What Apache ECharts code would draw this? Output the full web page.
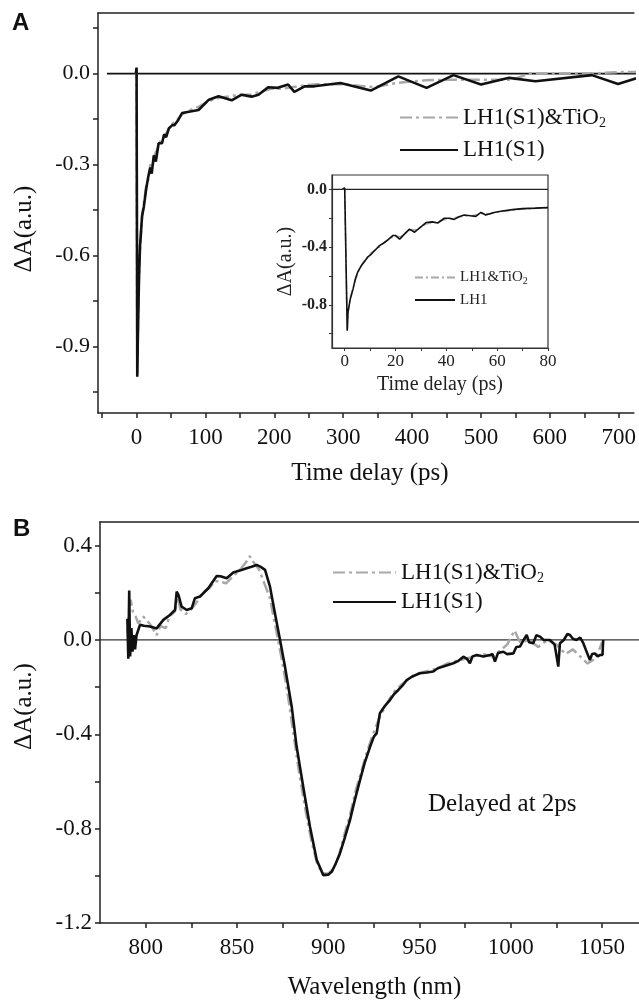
<!DOCTYPE html>
<html>
<head>
<meta charset="utf-8">
<script src="https://cdn.jsdelivr.net/npm/echarts@6/dist/echarts.min.js"></script>
<style>html,body{margin:0;padding:0;background:#fff;}#c{width:639px;height:1003px;}</style>
</head>
<body>
<div id="c"></div>
<script>
// ---------- Panel A: kinetics (time delay, ps) ----------
const seriesNamesA = ['LH1(S1)&TiO2', 'LH1(S1)'];
const kineticsBlackA = [[-1,0],[0,0.02],[1,-1.0],[2,-0.85],[3.5,-0.68],[5,-0.57],[8,-0.47],[10.5,-0.44],[14,-0.38],[17,-0.34],[20,-0.31],[22,-0.33],[25,-0.27],[28,-0.29],[32,-0.23],[37,-0.23],[40,-0.20],[43,-0.21],[47,-0.18],[52,-0.17],[55,-0.17],[60,-0.155],[66,-0.13],[78,-0.125],[90,-0.12],[105,-0.086],[119,-0.075],[138,-0.088],[152,-0.07],[167,-0.076],[177,-0.07],[191,-0.045],[205,-0.047],[220,-0.036],[229,-0.06],[244,-0.042],[258,-0.042],[296,-0.031],[340,-0.056],[380,-0.009],[421,-0.047],[460,-0.005],[500,-0.036],[541,-0.014],[579,-0.025],[661,-0.005],[699,-0.034],[740,-0.005]];
const kineticsGrayA = [[-1,0],[0,0.01],[1,-0.99],[2,-0.84],[3.5,-0.67],[5,-0.58],[8,-0.47],[10.5,-0.43],[14,-0.37],[17,-0.35],[20,-0.30],[23,-0.31],[26,-0.27],[30,-0.25],[35,-0.22],[40,-0.21],[45,-0.19],[50,-0.17],[55,-0.16],[60,-0.15],[66,-0.135],[78,-0.12],[90,-0.11],[105,-0.09],[120,-0.08],[135,-0.075],[150,-0.07],[165,-0.07],[180,-0.06],[195,-0.05],[210,-0.05],[225,-0.045],[240,-0.04],[260,-0.035],[300,-0.035],[345,-0.045],[380,-0.03],[420,-0.022],[460,-0.02],[500,-0.02],[546,-0.02],[570,0.0],[620,0.0],[660,0.0],[700,0.005],[740,0.005]];
const baselineA = [[-43,0],[760,0]];
const xLabelsA = [0,100,200,300,400,500,600,700];
const xTicksA = [-50,0,50,100,150,200,250,300,350,400,450,500,550,600,650,700];
const yLabelsA = [0,-0.3,-0.6,-0.9];
const yTicksA = [0.15,0,-0.15,-0.3,-0.45,-0.6,-0.75,-0.9,-1.05];

// ---------- Inset of panel A ----------
const seriesNamesInset = ['LH1&TiO2', 'LH1'];
const insetBlack = [[-1,0],[0,0.01],[1,-0.98],[1.3,-0.85],[2.2,-0.76],[3.3,-0.69],[4.2,-0.62],[5.2,-0.57],[6.5,-0.53],[7.8,-0.50],[9,-0.47],[10.4,-0.45],[12,-0.42],[13.7,-0.39],[15.5,-0.37],[17,-0.35],[18.9,-0.32],[20,-0.32],[21.6,-0.345],[23.5,-0.31],[25.5,-0.275],[27.5,-0.297],[30,-0.26],[32,-0.23],[34.5,-0.225],[36.6,-0.233],[39.2,-0.20],[41,-0.20],[43.1,-0.208],[45,-0.19],[47,-0.178],[49.5,-0.183],[51.6,-0.187],[53.6,-0.16],[55.5,-0.178],[58.8,-0.16],[62,-0.15],[66,-0.14],[70,-0.133],[75,-0.13],[80,-0.126]];
const insetGray = [[-1,0],[0,0.01],[1,-0.97],[1.3,-0.86],[2.2,-0.75],[3.3,-0.68],[4.2,-0.63],[5.2,-0.58],[6.5,-0.53],[7.8,-0.49],[9,-0.47],[10.4,-0.44],[12,-0.42],[13.7,-0.40],[15.5,-0.37],[17,-0.35],[18.9,-0.33],[20,-0.32],[22,-0.33],[24,-0.30],[26,-0.28],[28,-0.28],[30,-0.26],[32,-0.24],[35,-0.23],[37,-0.225],[39,-0.21],[42,-0.20],[45,-0.19],[48,-0.185],[51,-0.18],[54,-0.165],[57,-0.17],[60,-0.155],[64,-0.15],[68,-0.14],[72,-0.135],[76,-0.13],[80,-0.128]];
const baselineInset = [[-5,0],[80,0]];
const xLabelsInset = [0,20,40,60,80];
const xTicksInset = [0,10,20,30,40,50,60,70,80];
const yLabelsInset = [0,-0.4,-0.8];
const yTicksInset = [0,-0.2,-0.4,-0.6,-0.8,-1.0];

// ---------- Panel B: spectrum (wavelength, nm) ----------
const spectrumBlackB = [[790,0.09],[790.5,-0.08],[791,0.21],[791.5,-0.07],[792.2,0.05],[792.8,-0.05],[793.5,0.02],[794.2,-0.04],[795,0.02],[796.9,0.064],[799,0.06],[802.4,0.057],[806,0.049],[809.7,0.085],[813.3,0.106],[816.1,0.127],[817,0.205],[818,0.19],[819.7,0.141],[822.5,0.127],[825.2,0.134],[827,0.177],[829.8,0.184],[834.3,0.219],[838.9,0.271],[841,0.27],[844.4,0.262],[848,0.286],[852,0.295],[855.3,0.304],[858,0.31],[860.8,0.318],[863,0.31],[865.4,0.297],[868.1,0.226],[870.8,0.113],[873.6,0],[876.3,-0.113],[880,-0.283],[882.7,-0.453],[886.3,-0.622],[890,-0.792],[893.7,-0.933],[897.3,-0.997],[900,-0.995],[901.9,-0.983],[904,-0.95],[906.4,-0.905],[909,-0.84],[911.9,-0.764],[914.5,-0.68],[917.4,-0.594],[920,-0.52],[922.9,-0.453],[925,-0.41],[926.5,-0.396],[928.3,-0.311],[931,-0.28],[933.8,-0.255],[936,-0.23],[938.4,-0.212],[941,-0.19],[943,-0.170],[946,-0.155],[950.2,-0.141],[954,-0.138],[957.5,-0.134],[960,-0.12],[963,-0.113],[966,-0.105],[968.5,-0.099],[971,-0.09],[974,-0.071],[976,-0.08],[977.6,-0.099],[979,-0.07],[981.3,-0.064],[985,-0.07],[988.6,-0.064],[990,-0.06],[991.3,-0.092],[993,-0.055],[995.9,-0.050],[998,-0.06],[1001.4,-0.057],[1003,-0.03],[1005,-0.028],[1007,0.0],[1008.7,0.021],[1010,-0.01],[1012.3,-0.014],[1014,0.02],[1016,0.014],[1018,0.0],[1021.4,0],[1024,-0.02],[1026,-0.113],[1026.9,-0.014],[1029,0.0],[1031,0.025],[1032.4,0.021],[1034,0.005],[1036,0],[1038,0.01],[1039.7,-0.014],[1041,-0.04],[1043.3,-0.085],[1044.5,-0.06],[1046,-0.057],[1047.5,-0.07],[1048.8,-0.064],[1050.2,-0.064],[1050.6,0]];
const spectrumGrayB = [[790,0.05],[790.5,0.0],[791,0.13],[791.8,0.17],[793,0.12],[794.5,0.1],[796,0.07],[798.7,0.099],[801,0.08],[803,0.06],[806,0.02],[808,0.06],[811,0.05],[813,0.1],[816,0.12],[817.5,0.18],[819,0.13],[822,0.11],[825,0.13],[828,0.16],[831,0.2],[835,0.22],[838,0.25],[840.7,0.247],[844,0.24],[848,0.27],[852,0.3],[855,0.33],[857,0.355],[859,0.33],[862,0.3],[865,0.24],[868,0.18],[870,0.1],[872.5,0.0],[875,-0.1],[878,-0.24],[881,-0.4],[884,-0.56],[887.5,-0.72],[891,-0.86],[894,-0.95],[897,-0.99],[900,-0.99],[903,-0.97],[906,-0.91],[909,-0.82],[912,-0.74],[915,-0.64],[918,-0.56],[921,-0.48],[924,-0.41],[928,-0.33],[932,-0.27],[936,-0.22],[940,-0.19],[945,-0.16],[950,-0.14],[955,-0.13],[960,-0.12],[965,-0.1],[970,-0.09],[975,-0.08],[980,-0.07],[985,-0.06],[990,-0.07],[995,-0.04],[998,-0.02],[1002,0.04],[1005,-0.01],[1010,0.0],[1015,-0.03],[1020,0.0],[1025,-0.02],[1030,-0.06],[1034,-0.04],[1038,-0.07],[1042,-0.1],[1045,-0.085],[1048,-0.05],[1050,-0.01]];
const baselineB = [[775,0],[1080,0]];
const xLabelsB = [800,850,900,950,1000,1050];
const xTicksB = [800,825,850,875,900,925,950,975,1000,1025,1050];
const yLabelsB = [0.4,0,-0.4,-0.8,-1.2];
const yTicksB = [0.4,0.2,0,-0.2,-0.4,-0.6,-0.8,-1.0,-1.2];

// ---------- styling ----------
const SERIF = '"Liberation Serif","Times New Roman",serif';
const AX = '#222';
const GRAY = '#a8a8a8';
const dashDot = [12, 4, 3, 4];

function valAxis(o) {
  return Object.assign({
    type: 'value',
    splitLine: { show: false },
    axisLine: { show: true, onZero: false, lineStyle: { color: AX, width: 1.5 } },
    axisTick: { show: true, length: 5, lineStyle: { color: AX, width: 1.5 } },
    axisLabel: { color: '#111', fontFamily: SERIF, fontSize: 22 },
    nameTextStyle: { color: '#111', fontFamily: SERIF, fontSize: 25 }
  }, o);
}
function topFrame(grid, min, max) {
  return { type: 'value', gridIndex: grid, position: 'top', min: min, max: max,
    splitLine: { show: false }, axisTick: { show: false }, axisLabel: { show: false },
    axisLine: { show: true, onZero: false, lineStyle: { color: AX, width: 1.5 } } };
}
function fmt1(v) { return (Math.abs(v) < 1e-9 ? 0 : v).toFixed(1); }
function fmt0(v) { return String(Math.round(v)); }

const legendFormatter = function (name) {
  if (name.endsWith('TiO2')) return '{t|' + name.slice(0, -1) + '}{s|2}';
  return '{t|' + name + '}';
};

const option = {
  animation: false,
  backgroundColor: '#fff',
  grid: [
    { left: 98, top: 13, right: 0, height: 400 },
    { left: 332, top: 175, width: 216, height: 173, show: true, borderColor: '#333', borderWidth: 1.2, backgroundColor: '#fff' },
    { left: 100, top: 522, right: 0, height: 401 }
  ],
  xAxis: [
    valAxis({ gridIndex: 0, min: -56, max: 722,
      axisLabel: { color: '#111', fontFamily: SERIF, fontSize: 23, margin: 13, customValues: xLabelsA, formatter: fmt0 },
      axisTick: { show: true, length: 5, lineStyle: { color: AX, width: 1.5 }, customValues: xTicksA },
      name: 'Time delay (ps)', nameLocation: 'middle', nameGap: 48,
      nameTextStyle: { color: '#111', fontFamily: SERIF, fontSize: 25, padding: [0, 0, 0, 8] } }),
    valAxis({ gridIndex: 1, min: -5, max: 80,
      axisLine: { show: true, onZero: false, lineStyle: { color: '#333', width: 1.2 } },
      axisLabel: { color: '#222', fontFamily: SERIF, fontSize: 17, margin: 5, customValues: xLabelsInset, formatter: fmt0 },
      axisTick: { show: true, length: 3, lineStyle: { color: '#333', width: 1 }, customValues: xTicksInset },
      name: 'Time delay (ps)', nameLocation: 'middle', nameGap: 27,
      nameTextStyle: { color: '#222', fontFamily: SERIF, fontSize: 20 } }),
    valAxis({ gridIndex: 2, min: 775, max: 1070.2,
      axisLabel: { color: '#111', fontFamily: SERIF, fontSize: 23, margin: 13, customValues: xLabelsB, formatter: fmt0 },
      axisTick: { show: true, length: 5, lineStyle: { color: AX, width: 1.5 }, customValues: xTicksB },
      name: 'Wavelength (nm)', nameLocation: 'middle', nameGap: 52,
      nameTextStyle: { color: '#111', fontFamily: SERIF, fontSize: 25, padding: [0, 0, 0, 10] } }),
    topFrame(0, -56, 722),
    topFrame(2, 775, 1070.2)
  ],
  yAxis: [
    valAxis({ gridIndex: 0, min: -1.12, max: 0.2,
      axisLabel: { color: '#111', fontFamily: SERIF, fontSize: 22, margin: 8, customValues: yLabelsA, formatter: fmt1 },
      axisTick: { show: true, length: 5, lineStyle: { color: AX, width: 1.5 }, customValues: yTicksA },
      name: 'ΔA(a.u.)', nameLocation: 'middle', nameGap: 61,
      nameTextStyle: { color: '#111', fontFamily: SERIF, fontSize: 25, padding: [0, 32, 0, 0] } }),
    valAxis({ gridIndex: 1, min: -1.1, max: 0.1,
      axisLine: { show: true, onZero: false, lineStyle: { color: '#333', width: 1.2 } },
      axisLabel: { color: '#222', fontFamily: SERIF, fontSize: 16, fontWeight: 'bold', margin: 5, customValues: yLabelsInset, formatter: fmt1 },
      axisTick: { show: true, length: 3, lineStyle: { color: '#333', width: 1 }, customValues: yTicksInset },
      name: 'ΔA(a.u.)', nameLocation: 'middle', nameGap: 36,
      nameTextStyle: { color: '#222', fontFamily: SERIF, fontSize: 20 } }),
    valAxis({ gridIndex: 2, min: -1.2, max: 0.5,
      axisLabel: { color: '#111', fontFamily: SERIF, fontSize: 23, margin: 8, customValues: yLabelsB, formatter: fmt1 },
      axisTick: { show: true, length: 5, lineStyle: { color: AX, width: 1.5 }, customValues: yTicksB },
      name: 'ΔA(a.u.)', nameLocation: 'middle', nameGap: 63,
      nameTextStyle: { color: '#111', fontFamily: SERIF, fontSize: 25, padding: [0, 0, 0, 32] } })
  ],
  legend: [
    { orient: 'vertical', left: 394, top: 101, itemWidth: 58, itemHeight: 12, itemGap: 8,
      data: seriesNamesA, formatter: legendFormatter, selectedMode: false, itemStyle: { opacity: 0 },
      textStyle: { color: '#111', fontFamily: SERIF, fontSize: 23,
        rich: { t: { fontFamily: SERIF, fontSize: 23, color: '#111' }, s: { fontFamily: SERIF, fontSize: 14, color: '#111', padding: [12, 0, 0, 0] } } } },
    { orient: 'vertical', left: 409, top: 265, itemWidth: 40, itemHeight: 8, itemGap: 6,
      data: seriesNamesInset, formatter: legendFormatter, selectedMode: false, itemStyle: { opacity: 0 },
      textStyle: { color: '#222', fontFamily: SERIF, fontSize: 15,
        rich: { t: { fontFamily: SERIF, fontSize: 15, color: '#222' }, s: { fontFamily: SERIF, fontSize: 10, color: '#222', padding: [8, 0, 0, 0] } } } },
    { orient: 'vertical', left: 327, top: 556, itemWidth: 63, itemHeight: 12, itemGap: 5,
      data: seriesNamesA, formatter: legendFormatter, selectedMode: false, itemStyle: { opacity: 0 },
      textStyle: { color: '#111', fontFamily: SERIF, fontSize: 23,
        rich: { t: { fontFamily: SERIF, fontSize: 23, color: '#111' }, s: { fontFamily: SERIF, fontSize: 14, color: '#111', padding: [12, 0, 0, 0] } } } }
  ],
  graphic: [
    { type: 'text', left: 12, top: 11, style: { text: 'A', font: 'bold 24px "Liberation Sans", Arial, sans-serif', fill: '#111' } },
    { type: 'text', left: 13, top: 517, style: { text: 'B', font: 'bold 24px "Liberation Sans", Arial, sans-serif', fill: '#111' } },
    { type: 'text', left: 428, top: 792, style: { text: 'Delayed at 2ps', font: '25px "Liberation Serif", "Times New Roman", serif', fill: '#111' } }
  ],
  series: [
    { type: 'line', name: 'baselineA', xAxisIndex: 0, yAxisIndex: 0, data: baselineA, symbol: 'none', silent: true,
      lineStyle: { color: '#111', width: 1.8 }, z: 1 },
    { type: 'line', name: seriesNamesA[0], xAxisIndex: 0, yAxisIndex: 0, data: kineticsGrayA, symbol: 'none',
      lineStyle: { color: GRAY, width: 2.5, type: dashDot }, itemStyle: { color: GRAY }, z: 2 },
    { type: 'line', name: seriesNamesA[1], xAxisIndex: 0, yAxisIndex: 0, data: kineticsBlackA, symbol: 'none',
      lineStyle: { color: '#111', width: 2.6 }, itemStyle: { color: '#111' }, z: 3 },

    { type: 'line', name: 'baselineInset', xAxisIndex: 1, yAxisIndex: 1, data: baselineInset, symbol: 'none', silent: true,
      lineStyle: { color: '#222', width: 1.1 }, z: 4 },
    { type: 'line', name: seriesNamesInset[0], xAxisIndex: 1, yAxisIndex: 1, data: insetGray, symbol: 'none',
      lineStyle: { color: GRAY, width: 1.5, type: [8, 3, 2, 3] }, itemStyle: { color: GRAY }, z: 5 },
    { type: 'line', name: seriesNamesInset[1], xAxisIndex: 1, yAxisIndex: 1, data: insetBlack, symbol: 'none',
      lineStyle: { color: '#111', width: 1.6 }, itemStyle: { color: '#111' }, z: 6 },

    { type: 'line', name: 'baselineB', xAxisIndex: 2, yAxisIndex: 2, data: baselineB, symbol: 'none', silent: true,
      lineStyle: { color: '#333', width: 1.2 }, z: 1 },
    { type: 'line', name: seriesNamesA[0], xAxisIndex: 2, yAxisIndex: 2, data: spectrumGrayB, symbol: 'none',
      lineStyle: { color: GRAY, width: 2.5, type: dashDot }, itemStyle: { color: GRAY }, z: 2 },
    { type: 'line', name: seriesNamesA[1], xAxisIndex: 2, yAxisIndex: 2, data: spectrumBlackB, symbol: 'none',
      lineStyle: { color: '#111', width: 2.6 }, itemStyle: { color: '#111' }, z: 3 }
  ]
};

const chart = echarts.init(document.getElementById('c'), null, { renderer: 'canvas' });
chart.setOption(option);
</script>
</body>
</html>
